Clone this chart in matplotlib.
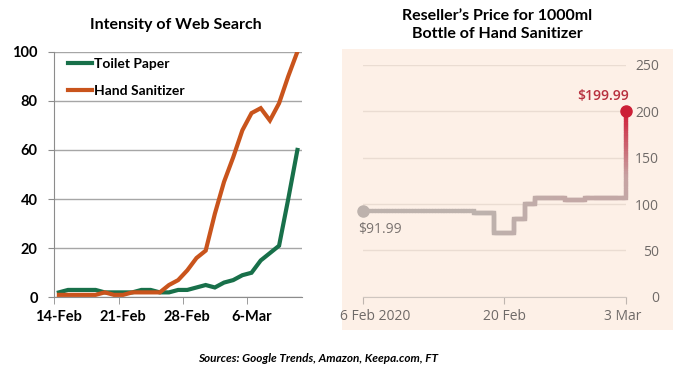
import numpy as np
import pandas as pd
import matplotlib
matplotlib.use("Agg")
import matplotlib.pyplot as plt
import matplotlib.dates as mdates
import matplotlib.transforms as mtransforms
from matplotlib.collections import LineCollection
from matplotlib.colors import LinearSegmentedColormap
from matplotlib.patches import Rectangle

# --- datos: intensidad de busqueda (diaria, 14-Feb a 11-Mar) ---
toilet_paper = [2, 3, 3, 3, 3, 2, 2, 2, 2, 3, 3, 2, 2, 3, 3, 4, 5, 4, 6, 7,
                9, 10, 15, 18, 21, 40, 60]
hand_sanitizer = [1, 1, 1, 1, 1, 2, 1, 1, 2, 2, 2, 2, 5, 7, 11, 16, 19, 34,
                  47, 57, 68, 75, 77, 72, 79, 90, 100]
search_ticks = [0, 7, 14, 21]
search_tick_labels = ["14-Feb", "21-Feb", "28-Feb", "6-Mar"]

# --- datos: precio del revendedor ---
price_dates = ["2020-02-06", "2020-02-17", "2020-02-19", "2020-02-21",
               "2020-02-22", "2020-02-23", "2020-02-26", "2020-02-28",
               "2020-03-03"]
price_values = [91.99, 90.5, 69, 84, 99.5, 106, 104.5, 106, 199.99]
price_ticks = ["2020-02-06", "2020-02-20", "2020-03-03"]
price_tick_labels = ["6 Feb 2020", "20 Feb", "3 Mar"]
price_yticks = [0, 50, 100, 150, 200, 250]

W, H = 700, 369
fig = plt.figure(figsize=(W / 100, H / 100), dpi=100)
fig.patch.set_facecolor("white")

def px_axes(x0, y_top, x1, y_bot):
    return fig.add_axes([x0 / W, 1 - y_bot / H, (x1 - x0) / W, (y_bot - y_top) / H])

BOLD = dict(family="Lato", fontweight="bold")

# ---------------- panel izquierdo ----------------
ax = px_axes(54.3, 51.7, 302, 297.3)
x = np.arange(len(toilet_paper))
ax.plot(x, toilet_paper, color="#18704a", lw=3, solid_joinstyle="miter", label="Toilet Paper", zorder=3)
ax.plot(x, hand_sanitizer, color="#c9541c", lw=3, solid_joinstyle="miter", label="Hand Sanitizer", zorder=3)
ax.set_xlim(-0.5, len(x) - 0.5)
ax.set_ylim(0, 100)
ax.set_yticks([0, 20, 40, 60, 80, 100])
ax.yaxis.grid(True, color="#a6a6a6", lw=1)
ax.set_axisbelow(True)
for s in ["top", "right"]:
    ax.spines[s].set_visible(False)
for s in ["left", "bottom"]:
    ax.spines[s].set_color("#8c8c8c")
ax.set_xticks(search_ticks)
ax.set_xticklabels(search_tick_labels)
ax.set_xticks([t - 0.5 for t in search_ticks], minor=True)
ax.tick_params(axis="x", which="major", length=0, pad=9)
ax.tick_params(axis="x", which="minor", length=5, color="#8c8c8c")
ax.tick_params(axis="y", length=4, color="#8c8c8c", pad=8)
for lab in ax.get_xticklabels() + ax.get_yticklabels():
    lab.set_fontfamily("Lato")
    lab.set_fontweight("bold")
    lab.set_fontsize(10.5)
leg = ax.legend(loc="upper left", bbox_to_anchor=(68 / W, 1 - 58 / H),
                bbox_transform=fig.transFigure, frameon=False,
                prop=dict(family="Lato", weight="bold", size=10),
                handlelength=1.7, handletextpad=0.15, labelspacing=1.1,
                borderpad=0, borderaxespad=0)
fig.text(176 / W, 1 - 25 / H, "Intensity of Web Search", ha="center", va="center",
         fontsize=11.5, **BOLD)

# ---------------- panel derecho ----------------
fig.patches.append(Rectangle((342 / W, 1 - 330 / H), 331 / W, 281 / H,
                             transform=fig.transFigure, facecolor="#fdf0e7",
                             edgecolor="none", zorder=-1))
ax2 = px_axes(362.7, 65, 625.7, 296.7)
ax2.patch.set_alpha(0)
d = mdates.date2num(pd.to_datetime(price_dates))
ax2.set_xlim(d[0], d[-1])
ax2.set_ylim(0, 250)

# linea escalonada con degradado gris -> rojo
vx = np.repeat(d, 2)[1:]
vy = np.repeat(price_values, 2)[:-1]
pts = []
for i in range(len(vx) - 1):
    n = 40
    xs = np.linspace(vx[i], vx[i + 1], n)
    ys = np.linspace(vy[i], vy[i + 1], n)
    pts.append(np.column_stack([xs, ys]))
pts = np.vstack(pts)
segs = np.stack([pts[:-1], pts[1:]], axis=1)
mx = (segs[:, 0, 0] + segs[:, 1, 0]) / 2
my = (segs[:, 0, 1] + segs[:, 1, 1]) / 2
s = 0.3 * np.clip((mx - d[0] - 12) / 8, 0, 1) + 0.7 * np.clip((my - 106) / (price_values[-1] - 106), 0, 1)
cmap = LinearSegmentedColormap.from_list("ft", ["#bdb2ad", "#c7a2a2", "#d0203a"])
lc = LineCollection(segs, colors=cmap(s), linewidths=3, capstyle="projecting", zorder=3)
lc.set_clip_on(False)
ax2.add_collection(lc)
ax2.plot(d[0], price_values[0], "o", color="#bdb2ad", ms=8, clip_on=False, zorder=4)
ax2.plot(d[-1], price_values[-1], "o", color="#cc1f36", ms=8, clip_on=False, zorder=4)
ax2.annotate("$91.99", (d[0], price_values[0]), xytext=(-3, -13), textcoords="offset points",
             ha="left", va="center", color="#7a7370", fontsize=10, family="Open Sans")
ax2.annotate("$199.99", (d[-1], price_values[-1]), xytext=(2, 11), textcoords="offset points",
             ha="right", va="center", color="#b8313f", fontsize=10, family="Open Sans",
             fontweight="semibold")

ax2.set_yticks(price_yticks)
ax2.yaxis.tick_right()
ax2.yaxis.grid(True, color="#eadcd2", lw=1)
ax2.set_axisbelow(True)
ax2.tick_params(axis="y", length=0, pad=24, labelcolor="#6f6a68", labelsize=10)
for lab in ax2.get_yticklabels():
    lab.set_horizontalalignment("right")
    lab.set_fontfamily("Open Sans")
ax2.set_xticks(mdates.date2num(pd.to_datetime(price_ticks)))
ax2.set_xticklabels(price_tick_labels)
ax2.tick_params(axis="x", length=5, color="#bfb6b0", pad=4, labelcolor="#6f6a68", labelsize=10)
for lab in ax2.get_xticklabels():
    lab.set_fontfamily("Open Sans")
# la primera etiqueta va corrida a la derecha, la ultima un poco a la izquierda
xl = ax2.get_xticklabels()
xl[0].set_transform(xl[0].get_transform() + mtransforms.ScaledTranslation(12 / 100, 0, fig.dpi_scale_trans))
xl[-1].set_transform(xl[-1].get_transform() + mtransforms.ScaledTranslation(-3 / 100, 0, fig.dpi_scale_trans))
for sp in ["top", "right", "left"]:
    ax2.spines[sp].set_visible(False)
ax2.spines["bottom"].set_color("#cfc6c0")
fig.text(497 / W, 1 - 25 / H, "Reseller\u2019s Price for 1000ml\nBottle of Hand Sanitizer",
         ha="center", va="center", fontsize=11.5, linespacing=1.45, **BOLD)

fig.text(318 / W, 1 - 358 / H, "Sources: Google Trends, Amazon, Keepa.com, FT",
         ha="center", va="center", fontsize=8.5, family="Lato", fontweight="bold",
         fontstyle="italic")

fig.savefig("out.png", dpi=100)
